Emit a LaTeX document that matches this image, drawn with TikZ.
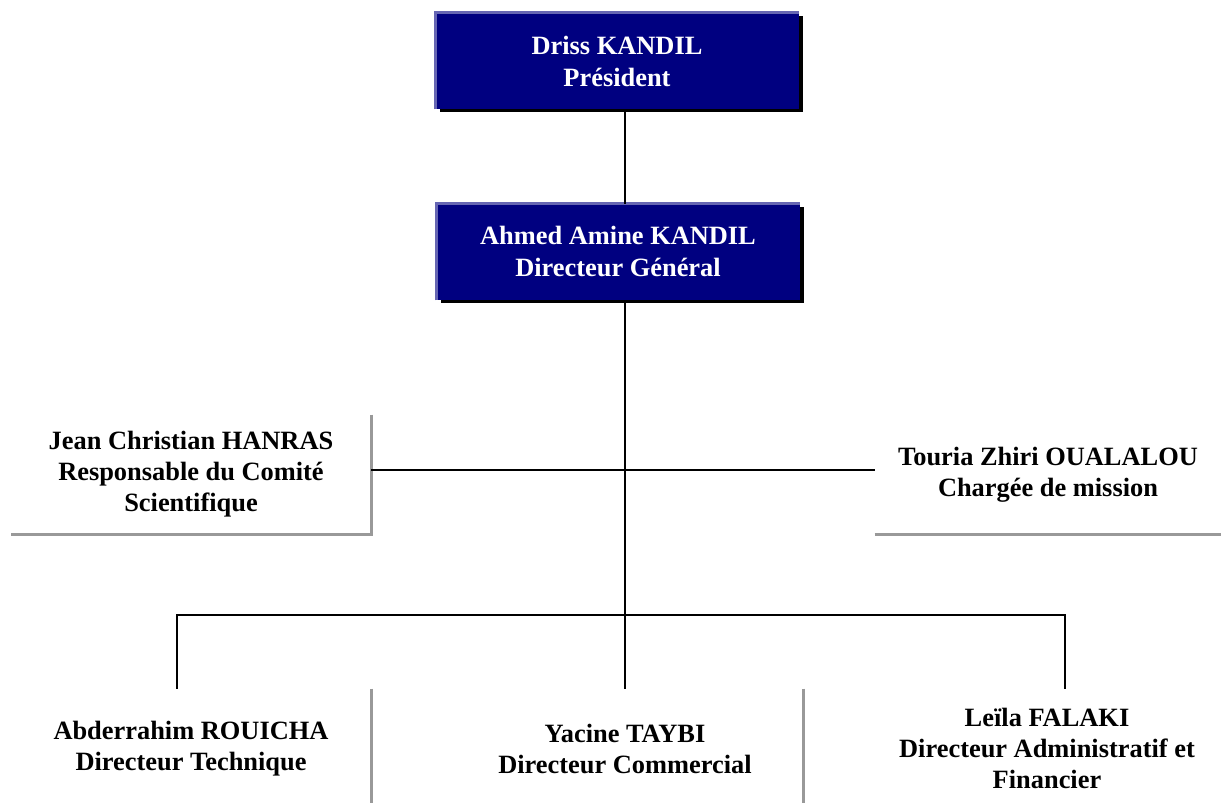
\documentclass[tikz,border=0pt]{standalone}
\usepackage{fontspec}
\setmainfont{Liberation Serif}
\usetikzlibrary{positioning,shadows}
\definecolor{navybox}{HTML}{000080}
\definecolor{lilac}{HTML}{6666B3}
\definecolor{shadegrey}{HTML}{999999}
\tikzset{
  head/.style={fill=navybox,text=white,font=\bfseries\fontsize{13.2}{16}\selectfont,align=center,
    minimum width=181.5pt,minimum height=48pt,inner sep=0pt,
    drop shadow={shadow xshift=2.4pt,shadow yshift=-1.6pt,fill=black,opacity=1}},
  staff/.style={font=\bfseries\fontsize{13.2}{15.5}\selectfont,align=center,
    minimum width=180pt,minimum height=59.5pt,inner sep=0pt},
  link/.style={draw=black,line width=1pt},
  rim/.style={draw=lilac,line width=1.5pt},
  rule/.style={draw=shadegrey,line width=1.5pt},
}

\begin{document}
\begin{tikzpicture}[x=0.5pt,y=-0.5pt]
  \useasboundingbox (0,0) rectangle (1223,803);
  \node[head] (pres) at (617,61) {Driss KANDIL\\Président};
  \node[head] (dg) at (618,252) {Ahmed Amine KANDIL\\Directeur Général};
  \draw[rim] (pres.south west) |- (pres.north east);
  \draw[rim] (dg.south west) |- (dg.north east);
  \coordinate (hub) at (625,470);
  \coordinate (fork) at (625,615);
  \node[staff] (sci) at (191,474.5) {Jean Christian HANRAS\\Responsable du Comité\\Scientifique};
  \node[staff,minimum width=173pt] (miss) at (1048,474.5) {Touria Zhiri OUALALOU\\Chargée de mission};
  \node[staff] (tech) at (191,748.5) {Abderrahim ROUICHA\\Directeur Technique};
  \node[staff,minimum width=178pt] (com) at (625,748.5) {Yacine TAYBI\\Directeur Commercial};
  \node[staff,minimum width=175pt] (daf) at (1047,748.5) {Leïla FALAKI\\Directeur Administratif et\\Financier};
  \coordinate (dropl) at (177,615);
  \coordinate (dropr) at (1065,615);
  % shadow edges
  \draw[rule] (sci.north east) -- (sci.south east) -- (sci.south west);
  \draw[rule] (miss.south west) -- (miss.south east);
  \draw[rule] (tech.north east) -- (tech.south east);
  \draw[rule] (com.north east) -- (com.south east);
  % links
  \draw[link] (pres.south -| hub) -- (dg.north -| hub);
  \draw[link] (dg.south -| hub) -- (com.north -| hub);
  \draw[link] (sci.east |- hub) -- (miss.west |- hub);
  \draw[link] (dropl |- tech.north) -- (dropl) -- (dropr) -- (dropr |- daf.north);
\end{tikzpicture}
\end{document}
